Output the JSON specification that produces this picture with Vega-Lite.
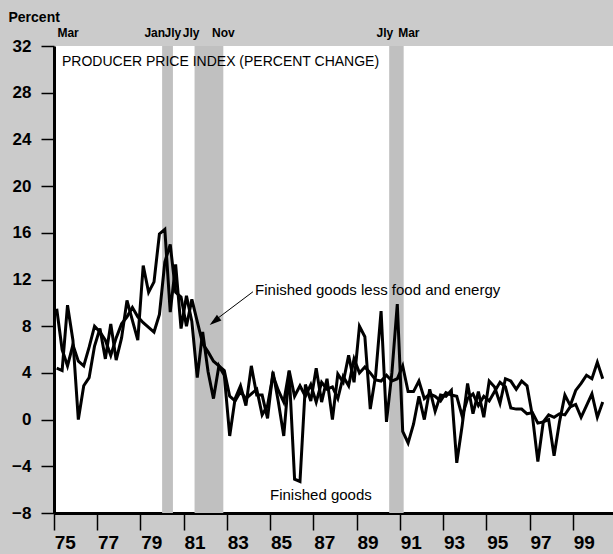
{
  "$schema": "https://vega.github.io/schema/vega-lite/v6.json",
  "width": 559,
  "height": 467,
  "autosize": {"type": "none"},
  "padding": {"left": 54, "top": 46, "right": 0, "bottom": 41},
  "background": "#cbcbcb",
  "config": {
    "view": {"fill": "white", "stroke": null},
    "font": "Liberation Sans",
    "axis": {"grid": false, "domainColor": "black", "domainWidth": 3, "tickColor": "black", "tickWidth": 1.5, "labelColor": "black", "labelFont": "Liberation Sans", "labelFontWeight": "bold", "labelOverlap": false, "labelFlush": false, "labelBound": false}
  },
  "datasets": {
    "ppi": [
      {"t": 1975.125, "fg": 4.4, "core": 9.5},
      {"t": 1975.375, "fg": 4.2, "core": 6.0},
      {"t": 1975.625, "fg": 9.8, "core": 4.6},
      {"t": 1975.875, "fg": 6.8, "core": 6.4},
      {"t": 1976.125, "fg": 0.0, "core": 5.0},
      {"t": 1976.375, "fg": 2.9, "core": 4.6},
      {"t": 1976.625, "fg": 3.6, "core": 6.2},
      {"t": 1976.875, "fg": 6.3, "core": 8.0},
      {"t": 1977.125, "fg": 7.8, "core": 7.5},
      {"t": 1977.375, "fg": 5.2, "core": 6.8},
      {"t": 1977.625, "fg": 8.2, "core": 5.5},
      {"t": 1977.875, "fg": 5.1, "core": 7.0},
      {"t": 1978.125, "fg": 7.0, "core": 8.2},
      {"t": 1978.375, "fg": 10.2, "core": 8.8},
      {"t": 1978.625, "fg": 8.5, "core": 9.6},
      {"t": 1978.875, "fg": 6.8, "core": 8.8},
      {"t": 1979.125, "fg": 13.2, "core": 8.3},
      {"t": 1979.375, "fg": 10.9, "core": 7.9},
      {"t": 1979.625, "fg": 11.8, "core": 7.5},
      {"t": 1979.875, "fg": 15.9, "core": 9.0},
      {"t": 1980.125, "fg": 16.3, "core": 13.5},
      {"t": 1980.375, "fg": 9.2, "core": 15.0},
      {"t": 1980.625, "fg": 13.3, "core": 10.9},
      {"t": 1980.875, "fg": 7.8, "core": 10.5},
      {"t": 1981.125, "fg": 10.6, "core": 8.0},
      {"t": 1981.375, "fg": 8.4, "core": 10.3},
      {"t": 1981.625, "fg": 3.6, "core": 8.4},
      {"t": 1981.875, "fg": 7.5, "core": 6.5},
      {"t": 1982.125, "fg": 4.1, "core": 5.8},
      {"t": 1982.375, "fg": 1.8, "core": 5.0},
      {"t": 1982.625, "fg": 4.6, "core": 4.6},
      {"t": 1982.875, "fg": 3.8, "core": 4.2},
      {"t": 1983.125, "fg": -1.4, "core": 2.0},
      {"t": 1983.375, "fg": 1.8, "core": 1.6},
      {"t": 1983.625, "fg": 2.9, "core": 2.4},
      {"t": 1983.875, "fg": 1.2, "core": 1.8},
      {"t": 1984.125, "fg": 4.6, "core": 2.2},
      {"t": 1984.375, "fg": 2.1, "core": 2.6},
      {"t": 1984.625, "fg": 2.1, "core": 0.4},
      {"t": 1984.875, "fg": 0.1, "core": 1.2},
      {"t": 1985.125, "fg": 4.1, "core": 3.8},
      {"t": 1985.375, "fg": 1.5, "core": 2.5},
      {"t": 1985.625, "fg": -1.4, "core": 1.5},
      {"t": 1985.875, "fg": 4.1, "core": 4.2},
      {"t": 1986.125, "fg": -5.1, "core": 2.0},
      {"t": 1986.375, "fg": -5.3, "core": 2.9},
      {"t": 1986.625, "fg": 3.0, "core": 2.0},
      {"t": 1986.875, "fg": 1.6, "core": 3.0},
      {"t": 1987.125, "fg": 4.4, "core": 1.5},
      {"t": 1987.375, "fg": 1.5, "core": 3.2},
      {"t": 1987.625, "fg": 3.5, "core": 2.6},
      {"t": 1987.875, "fg": 0.0, "core": 2.8},
      {"t": 1988.125, "fg": 3.9, "core": 1.8},
      {"t": 1988.375, "fg": 3.2, "core": 3.7},
      {"t": 1988.625, "fg": 5.5, "core": 2.9},
      {"t": 1988.875, "fg": 3.2, "core": 5.2},
      {"t": 1989.125, "fg": 8.0, "core": 4.0},
      {"t": 1989.375, "fg": 7.1, "core": 4.5},
      {"t": 1989.625, "fg": 0.9, "core": 4.0},
      {"t": 1989.875, "fg": 3.8, "core": 3.4},
      {"t": 1990.125, "fg": 9.3, "core": 3.3},
      {"t": 1990.375, "fg": -0.2, "core": 3.8},
      {"t": 1990.625, "fg": 4.0, "core": 3.3},
      {"t": 1990.875, "fg": 9.9, "core": 3.5},
      {"t": 1991.125, "fg": -1.0, "core": 4.6},
      {"t": 1991.375, "fg": -2.0, "core": 2.4},
      {"t": 1991.625, "fg": -0.4, "core": 2.4},
      {"t": 1991.875, "fg": 2.0, "core": 3.3},
      {"t": 1992.125, "fg": 0.0, "core": 1.8},
      {"t": 1992.375, "fg": 2.6, "core": 2.2},
      {"t": 1992.625, "fg": 0.7, "core": 2.0},
      {"t": 1992.875, "fg": 2.1, "core": 1.6},
      {"t": 1993.125, "fg": 2.0, "core": 2.3},
      {"t": 1993.375, "fg": 2.5, "core": 2.1},
      {"t": 1993.625, "fg": -3.7, "core": 2.0},
      {"t": 1993.875, "fg": -0.5, "core": 0.3},
      {"t": 1994.125, "fg": 3.1, "core": 1.8},
      {"t": 1994.375, "fg": 0.5, "core": 2.2},
      {"t": 1994.625, "fg": 2.4, "core": 1.2},
      {"t": 1994.875, "fg": 0.2, "core": 2.0},
      {"t": 1995.125, "fg": 3.3, "core": 1.6},
      {"t": 1995.375, "fg": 2.8, "core": 2.4},
      {"t": 1995.625, "fg": 1.4, "core": 3.2},
      {"t": 1995.875, "fg": 3.5, "core": 2.8},
      {"t": 1996.125, "fg": 3.3, "core": 1.0},
      {"t": 1996.375, "fg": 2.6, "core": 0.9},
      {"t": 1996.625, "fg": 3.3, "core": 0.9},
      {"t": 1996.875, "fg": 2.9, "core": 0.5},
      {"t": 1997.125, "fg": 0.3, "core": 0.6},
      {"t": 1997.375, "fg": -3.6, "core": -0.3},
      {"t": 1997.625, "fg": -0.2, "core": -0.2},
      {"t": 1997.875, "fg": 0.0, "core": 0.4},
      {"t": 1998.125, "fg": -3.1, "core": 0.2},
      {"t": 1998.375, "fg": -0.2, "core": 0.5},
      {"t": 1998.625, "fg": 2.1, "core": 0.4},
      {"t": 1998.875, "fg": 1.2, "core": 1.1},
      {"t": 1999.125, "fg": 2.5, "core": 1.3},
      {"t": 1999.375, "fg": 3.1, "core": 0.2},
      {"t": 1999.625, "fg": 3.8, "core": 1.2},
      {"t": 1999.875, "fg": 3.5, "core": 2.2},
      {"t": 2000.125, "fg": 4.9, "core": 0.2},
      {"t": 2000.375, "fg": 3.5, "core": 1.5}
    ],
    "recessions": [
      {"start": 1980.0, "end": 1980.5},
      {"start": 1981.5, "end": 1982.83},
      {"start": 1990.5, "end": 1991.17}
    ],
    "recLabels": [
      {"t": 1975.65, "label": "Mar"},
      {"t": 1979.66, "label": "Jan"},
      {"t": 1980.50, "label": "Jly"},
      {"t": 1981.34, "label": "Jly"},
      {"t": 1982.83, "label": "Nov"},
      {"t": 1990.30, "label": "Jly"},
      {"t": 1991.41, "label": "Mar"}
    ]
  },
  "layer": [
    {
      "data": {"name": "recessions"},
      "mark": {"type": "rect", "fill": "#c0c0c0"},
      "encoding": {
        "x": {
          "field": "start", "type": "quantitative",
          "scale": {"domain": [1975, 2000.85], "nice": false, "zero": false},
          "axis": {
            "title": null,
            "values": [1975,1976,1977,1978,1979,1980,1981,1982,1983,1984,1985,1986,1987,1988,1989,1990,1991,1992,1993,1994,1995,1996,1997,1998,1999,2000],
            "labelExpr": "datum.value % 2 == 1 ? substring(toString(datum.value), 2, 4) : ''",
            "labelOffset": 10.8,
            "tickSize": 17,
            "labelPadding": 3,
            "labelFontSize": 19,
            "labelBaseline": "top"
          }
        },
        "x2": {"field": "end"},
        "y": {
          "datum": -8, "type": "quantitative",
          "scale": {"domain": [-8, 32], "nice": false, "zero": false},
          "axis": {
            "values": [-8,-4,0,4,8,12,16,20,24,28,32],
            "tickSize": 13,
            "labelPadding": 10,
            "labelFontSize": 17,
            "title": "Percent",
            "titleAngle": 0,
            "titleAlign": "left",
            "titleBaseline": "middle",
            "titleX": -46,
            "titleY": -29,
            "titleFontSize": 14,
            "titleFontWeight": "bold",
            "titleColor": "black",
            "titleFont": "Liberation Sans"
          }
        },
        "y2": {"datum": 32}
      }
    },
    {
      "mark": {"type": "rule", "color": "#444444", "strokeWidth": 1.5},
      "encoding": {"y": {"datum": 0, "type": "quantitative"}}
    },
    {
      "data": {"name": "ppi"},
      "mark": {"type": "line", "color": "black", "strokeWidth": 3, "strokeJoin": "miter"},
      "encoding": {
        "x": {"field": "t", "type": "quantitative"},
        "y": {"field": "fg", "type": "quantitative"}
      }
    },
    {
      "data": {"name": "ppi"},
      "mark": {"type": "line", "color": "black", "strokeWidth": 3, "strokeJoin": "miter"},
      "encoding": {
        "x": {"field": "t", "type": "quantitative"},
        "y": {"field": "core", "type": "quantitative"}
      }
    },
    {
      "mark": {"type": "rule", "color": "black", "strokeWidth": 3},
      "encoding": {"y": {"datum": 32, "type": "quantitative"}}
    },
    {
      "data": {"name": "recLabels"},
      "mark": {"type": "text", "font": "Liberation Sans", "fontSize": 12, "fontWeight": "bold", "color": "black", "align": "center", "baseline": "middle", "dy": -13},
      "encoding": {
        "x": {"field": "t", "type": "quantitative"},
        "y": {"datum": 32, "type": "quantitative"},
        "text": {"field": "label"}
      }
    },
    {
      "data": {"values": [{"t": 1975.37, "v": 30.63, "label": "PRODUCER PRICE INDEX (PERCENT CHANGE)"}]},
      "mark": {"type": "text", "font": "Liberation Sans", "fontSize": 14, "color": "black", "align": "left", "baseline": "middle"},
      "encoding": {
        "x": {"field": "t", "type": "quantitative"},
        "y": {"field": "v", "type": "quantitative"},
        "text": {"field": "label"}
      }
    },
    {
      "data": {"values": [
        {"t": 1984.30, "v": 11.1, "label": "Finished goods less food and energy"},
        {"t": 1984.99, "v": -6.46, "label": "Finished goods"}
      ]},
      "mark": {"type": "text", "font": "Liberation Sans", "fontSize": 15, "color": "black", "align": "left", "baseline": "middle"},
      "encoding": {
        "x": {"field": "t", "type": "quantitative"},
        "y": {"field": "v", "type": "quantitative"},
        "text": {"field": "label"}
      }
    },
    {
      "data": {"values": [{"t": 1984.2, "v": 10.95}, {"t": 1982.3, "v": 8.3}]},
      "mark": {"type": "line", "color": "black", "strokeWidth": 1},
      "encoding": {
        "x": {"field": "t", "type": "quantitative"},
        "y": {"field": "v", "type": "quantitative"}
      }
    },
    {
      "data": {"values": [{"t": 1982.2, "v": 8.1}]},
      "mark": {"type": "point", "shape": "M0,0L-0.3,1L0.3,1Z", "filled": true, "color": "black", "opacity": 1, "size": 576, "angle": 232, "strokeWidth": 0},
      "encoding": {
        "x": {"field": "t", "type": "quantitative"},
        "y": {"field": "v", "type": "quantitative"}
      }
    }
  ]
}
